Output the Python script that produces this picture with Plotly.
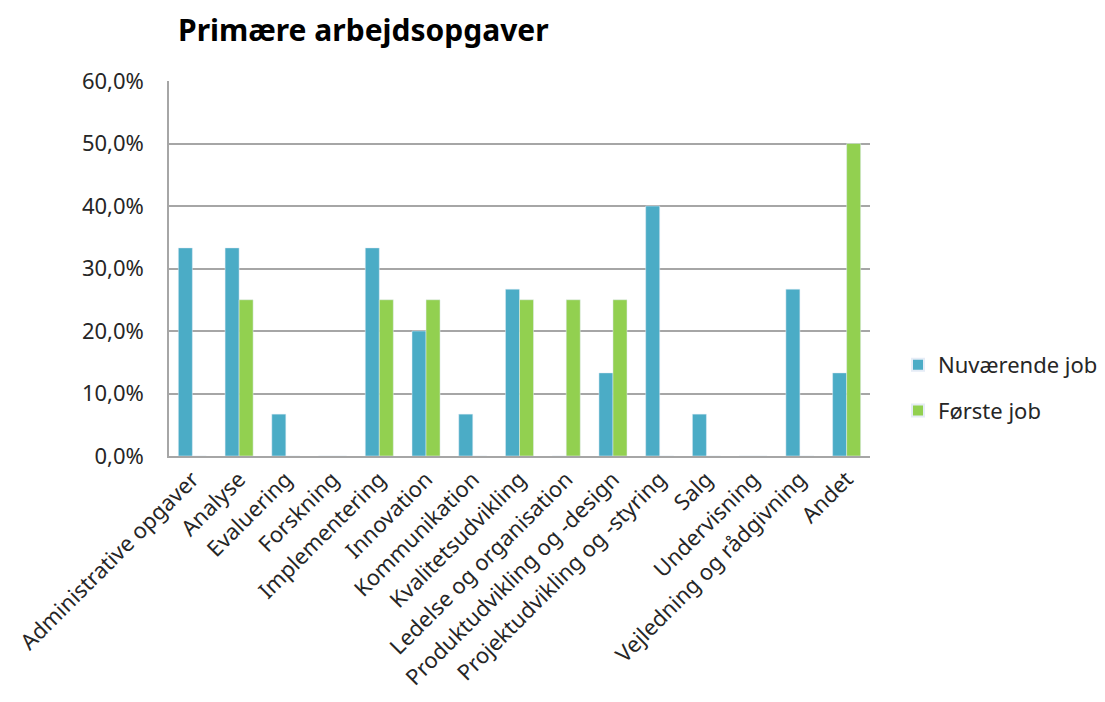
import plotly.graph_objects as go

categories = ["Administrative opgaver", "Analyse", "Evaluering", "Forskning", "Implementering",
              "Innovation", "Kommunikation", "Kvalitetsudvikling", "Ledelse og organisation",
              "Produktudvikling og -design", "Projektudvikling og -styring", "Salg",
              "Undervisning", "Vejledning og rådgivning", "Andet"]
nuvaerende = [0.333, 0.333, 0.067, 0.0, 0.333, 0.20, 0.067, 0.267, 0.0, 0.133, 0.40, 0.067, 0.0, 0.267, 0.133]
foerste = [0.0, 0.25, 0.0, 0.0, 0.25, 0.25, 0.0, 0.25, 0.25, 0.25, 0.0, 0.0, 0.0, 0.0, 0.50]

font = "Noto Sans, Open Sans, sans-serif"

fig = go.Figure()
fig.add_trace(go.Bar(x=categories, y=nuvaerende, name="Nuværende job", marker_color="#4BACC6",
                     legendgroup="a"))
fig.add_trace(go.Bar(x=categories, y=foerste, name="Første job", marker_color="#92D050",
                     legendgroup="b"))

fig.update_layout(
    width=1097, height=694,
    separators=",.",
    paper_bgcolor="white", plot_bgcolor="white",
    margin=dict(l=161, r=235, t=73, b=246),
    barmode="group", bargap=0.4, bargroupgap=0,
    title=dict(text="<b>Primære arbejdsopgaver</b>", x=170/1097, xanchor="left",
               y=1-22/694, yanchor="middle", font=dict(family=font, size=30, color="black")),
    font=dict(family=font, size=22, color="#262626"),
    legend=dict(xref="container", yref="container", x=890/1097, y=1-380/694,
                xanchor="left", yanchor="middle", font=dict(size=22, color="#262626"),
                itemsizing="constant", tracegroupgap=14),
    showlegend=True,
)
fig.update_xaxes(tickangle=-45, showline=True, linecolor="#A6A6A6", linewidth=1.5, automargin=False,
                 tickfont=dict(size=22, color="#262626"), ticks="")
fig.update_yaxes(range=[0, 0.6], dtick=0.1, tickformat=".1%", showgrid=True, gridcolor="#A6A6A6",
                 gridwidth=1.5, showline=True, linecolor="#A6A6A6", linewidth=1.5, zeroline=False,
                 automargin=False,
                 tickfont=dict(size=22, color="#262626"), ticks="", ticklabelstandoff=19)
fig.write_html("out.html")
